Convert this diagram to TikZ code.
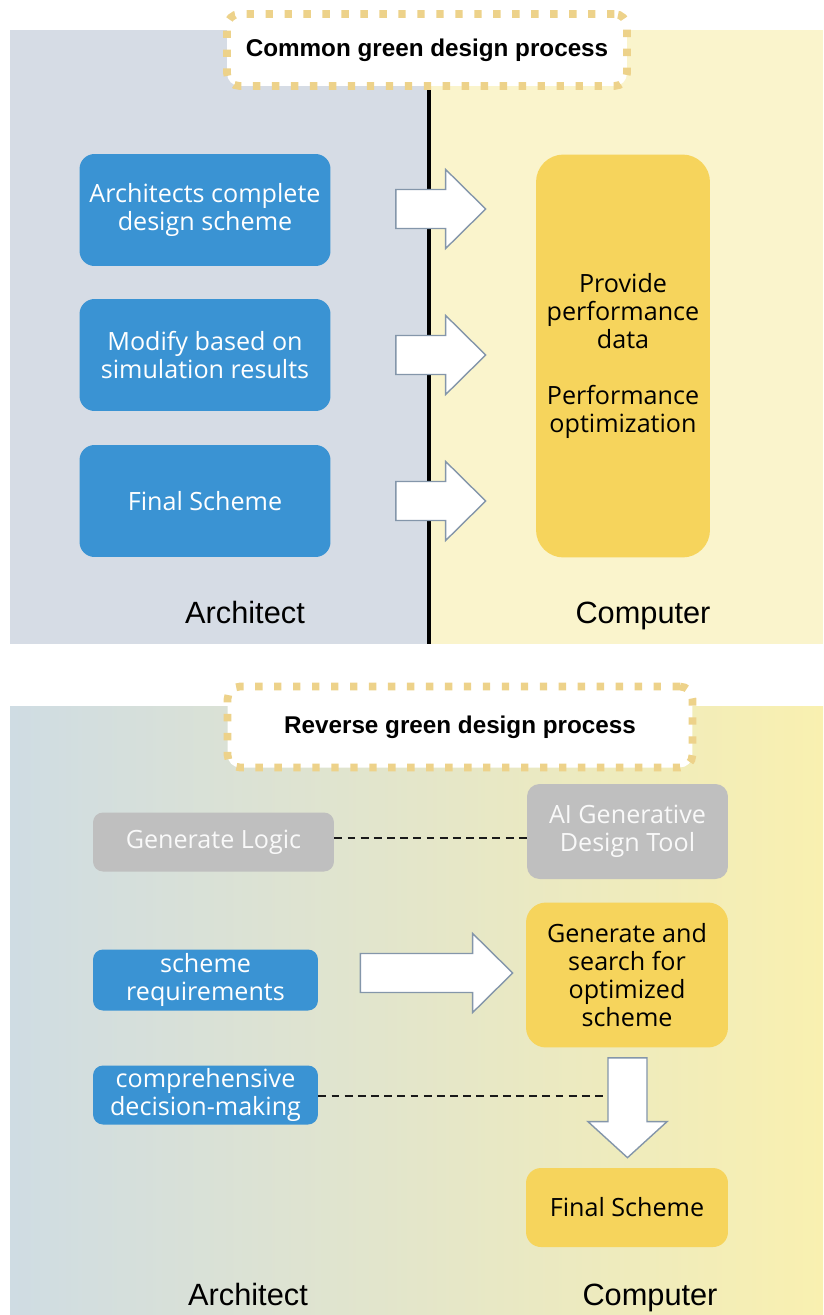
\documentclass[tikz,border=0pt]{standalone}
\usepackage{fontspec}
\setmainfont{Liberation Sans}
\newfontfamily\boxfont{Open Sans}
\usepackage{xcolor}
\usetikzlibrary{calc,positioning}

\definecolor{archbg}{HTML}{D6DCE5}
\definecolor{compbg}{HTML}{FAF4CC}
\definecolor{revleft}{HTML}{CFDCE3}
\definecolor{revright}{HTML}{F9F0B0}
\definecolor{stepblue}{HTML}{3A93D3}
\definecolor{stepyellow}{HTML}{F6D45C}
\definecolor{stepgray}{HTML}{BFBFBF}
\definecolor{dotyellow}{HTML}{EDD28A}
\definecolor{arrowline}{HTML}{8496AA}

\newcommand{\hblock}[2]{\draw[blockarrow] let \p1=(#1), \p2=(#2) in
  (\x1,{\y1+0.39cm}) -- ({\x2-0.8cm},{\y1+0.39cm}) -- ({\x2-0.8cm},{\y1+0.79cm}) -- (\x2,\y1)
  -- ({\x2-0.8cm},{\y1-0.79cm}) -- ({\x2-0.8cm},{\y1-0.39cm}) -- (\x1,{\y1-0.39cm}) -- cycle;}
\newcommand{\vblock}[2]{\draw[blockarrow] let \p1=(#1), \p2=(#2) in
  ({\x1-0.39cm},\y1) -- ({\x1-0.39cm},{\y2+0.72cm}) -- ({\x1-0.79cm},{\y2+0.72cm}) -- (\x1,\y2)
  -- ({\x1+0.79cm},{\y2+0.72cm}) -- ({\x1+0.39cm},{\y2+0.72cm}) -- ({\x1+0.39cm},\y1) -- cycle;}

\begin{document}
\begin{tikzpicture}[
    x=0.02cm, y=-0.02cm,
    every node/.style={inner sep=0pt, align=center},
    bluebox/.style={rectangle,rounded corners=0.3cm,fill=stepblue,text=white,font=\boxfont\fontsize{14.3}{15.9}\selectfont},
    yellowbox/.style={rectangle,rounded corners=0.4cm,fill=stepyellow,text=black,font=\boxfont\fontsize{14.3}{15.9}\selectfont},
    graybox/.style={rectangle,rounded corners=0.25cm,fill=stepgray,text=white!95!gray,font=\boxfont\fontsize{14.3}{15.9}\selectfont},
    titlebox/.style={rectangle,rounded corners=0.25cm,fill=white,draw=dotyellow,line width=4.4pt,
        dash pattern=on 4.2pt off 6.6pt,font=\bfseries\fontsize{13.8}{16}\selectfont},
    sidelabel/.style={anchor=base,font=\fontsize{17.5}{20}\selectfont},
    blockarrow/.style={draw=arrowline,fill=white,line width=0.8pt},
    linkline/.style={black!90,line width=0.9pt,dash pattern=on 4.5pt off 3pt},
]
\useasboundingbox (0,0) rectangle (823,1315);

% common process
\fill[archbg] (10,30) rectangle (429,644);
\fill[compbg] (429,30) rectangle (823,644);
\draw[black,line width=2pt] (429,85) -- (429,644);
\node[titlebox,minimum width=8cm,minimum height=1.44cm] (t1) at (427,50) {Common green design process};

\node[bluebox,minimum width=5.02cm,minimum height=2.24cm] (b1) at (205,210) {Architects complete\\design scheme};
\node[bluebox,minimum width=5.02cm,minimum height=2.24cm] (b2) at (205,355) {Modify based on\\simulation results};
\node[bluebox,minimum width=5.02cm,minimum height=2.24cm] (b3) at (205,501) {Final Scheme};
\node[yellowbox,rounded corners=0.55cm,minimum width=3.48cm,minimum height=8.06cm] (perf) at (623,356)
    {Provide\\performance\\data\\[15.9pt]Performance\\optimization};

\hblock{$(b1.east)+(65,-1)$}{$(perf.west |- b1.east)+(-50,-1)$}
\hblock{$(b2.east)+(65,0)$}{$(perf.west |- b2.east)+(-50,0)$}
\hblock{$(b3.east)+(65,0)$}{$(perf.west |- b3.east)+(-50,0)$}

\node[sidelabel] (arch1) at (245,623) {Architect};
\node[sidelabel] (comp1) at (643,623) {Computer};

% reverse process
\shade[left color=revleft,right color=revright] (10,706) rectangle (823,1315);
\node[titlebox,minimum width=9.3cm,minimum height=1.62cm] (t2) at (460,727) {Reverse green design process};

\node[graybox,rounded corners=0.2cm,minimum width=4.82cm,minimum height=1.18cm] (logic) at (213.5,842) {Generate Logic};
\node[graybox,minimum width=4.02cm,minimum height=1.9cm] (tool) at (627.5,831.5) {AI Generative\\Design Tool};
\node[bluebox,rounded corners=0.2cm,minimum width=4.5cm,minimum height=1.22cm] (req) at (205.5,980) {scheme\\requirements};
\node[yellowbox,minimum width=4.04cm,minimum height=2.9cm] (gen) at (627,975) {Generate and\\search for\\optimized\\scheme};
\node[bluebox,rounded corners=0.2cm,minimum width=4.5cm,minimum height=1.18cm] (dec) at (205.5,1095) {comprehensive\\decision-making};
\node[yellowbox,rounded corners=0.3cm,minimum width=4.04cm,minimum height=1.58cm] (final) at (627,1207.5) {Final Scheme};

\draw[linkline] (logic.east |- 0,838) -- (tool.west |- 0,838);
\hblock{$(req.east |- gen.west)+(42,-2)$}{$(gen.west)+(-13,-2)$}
\vblock{$(gen.south)+(0.5,10)$}{$(final.north)+(0.5,-10)$}
\coordinate (dend) at ($(gen.south)+(-19,48)$);
\draw[linkline] (dec.east |- dend) -- (dend);

\node[sidelabel] (arch2) at (248,1305) {Architect};
\node[sidelabel] (comp2) at (650,1305) {Computer};
\end{tikzpicture}
\end{document}
